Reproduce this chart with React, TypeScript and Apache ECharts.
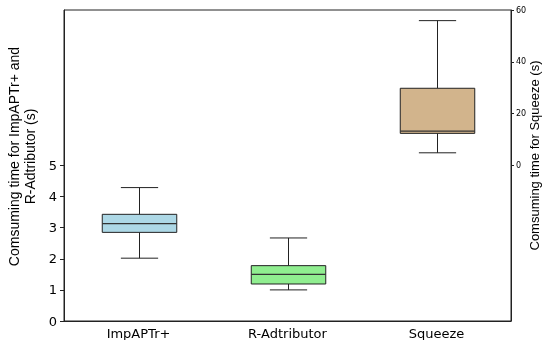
import React, { useEffect, useRef } from "react";
import * as echarts from "echarts";

const categories = ["ImpAPTr+", "R-Adtributor", "Squeeze"];
const whiskerLow = [2.02, 1.0, 4.9];
const q1 = [2.85, 1.19, 12.4];
const median = [3.13, 1.5, 13.3];
const q3 = [3.43, 1.78, 29.8];
const whiskerHigh = [4.29, 2.67, 55.9];
const boxColors = ["#add8e6", "#90ee90", "#d2b48c"];
const leftTicks = [0, 1, 2, 3, 4, 5];
const rightTicks = [0, 20, 40, 60];
const leftAxisIdx = [0, 1];
const rightAxisIdx = [2];

const FONT = "DejaVu Sans";
const NAME_FONT = "Liberation Sans";

function row(i: number) {
  return [i, whiskerLow[i], q1[i], median[i], q3[i], whiskerHigh[i]];
}

function renderBox(params: any, api: any) {
  const x = api.value(0);
  const idx = x as number;
  const band = api.size([1, 0])[0];
  const bw = band * 0.5;
  const cw = bw * 0.5;
  const pLo = api.coord([x, api.value(1)]);
  const pQ1 = api.coord([x, api.value(2)]);
  const pMed = api.coord([x, api.value(3)]);
  const pQ3 = api.coord([x, api.value(4)]);
  const pHi = api.coord([x, api.value(5)]);
  const cx = Math.round(pLo[0]) + 0.5;
  const line = { stroke: "#222", lineWidth: 1 };
  return {
    type: "group",
    children: [
      { type: "line", shape: { x1: cx, y1: pLo[1], x2: cx, y2: pQ1[1] }, style: line },
      { type: "line", shape: { x1: cx, y1: pQ3[1], x2: cx, y2: pHi[1] }, style: line },
      { type: "line", shape: { x1: cx - cw / 2, y1: pLo[1], x2: cx + cw / 2, y2: pLo[1] }, style: line },
      { type: "line", shape: { x1: cx - cw / 2, y1: pHi[1], x2: cx + cw / 2, y2: pHi[1] }, style: line },
      {
        type: "rect",
        shape: { x: cx - bw / 2, y: pQ3[1], width: bw, height: pQ1[1] - pQ3[1] },
        style: { fill: boxColors[idx], stroke: "#222", lineWidth: 1 },
      },
      { type: "line", shape: { x1: cx - bw / 2, y1: pMed[1], x2: cx + bw / 2, y2: pMed[1] }, style: { stroke: "#333", lineWidth: 1.2 } },
    ],
  };
}

export default function App() {
  const ref = useRef<HTMLDivElement>(null);
  useEffect(() => {
    if (!ref.current) return;
    const chart = echarts.init(ref.current, null, { renderer: "svg" });
    chart.setOption({
      animation: false,
      grid: {
        left: 64, right: 37, top: 10, bottom: 19,
        containLabel: false, outerBoundsMode: "none",
        show: true, borderColor: "#222", borderWidth: 1, backgroundColor: "transparent",
      },
      xAxis: {
        type: "category",
        data: categories,
        boundaryGap: true,
        axisLine: { lineStyle: { color: "#222" } },
        axisTick: { alignWithLabel: true, length: 4, lineStyle: { color: "#222" } },
        axisLabel: { color: "#000", fontSize: 13, fontFamily: FONT, margin: 6 },
        splitLine: { show: false },
      },
      yAxis: [
        {
          type: "value",
          min: 0,
          max: 10,
          interval: 1,
          position: "left",
          name: "Comsuming time for ImpAPTr+ and\nR-Adtributor (s)",
          nameLocation: "middle",
          nameGap: 17,
          nameRotate: 90,
          nameTextStyle: { color: "#000", fontSize: 14, fontFamily: NAME_FONT, lineHeight: 16, padding: [0, 0, 0, 18] },
          axisLine: { show: true, lineStyle: { color: "#222" } },
          axisTick: { show: true, length: 4, customValues: leftTicks, lineStyle: { color: "#222" } },
          axisLabel: { color: "#000", fontSize: 13, fontFamily: FONT, margin: 7, customValues: leftTicks },
          splitLine: { show: false },
        },
        {
          type: "value",
          min: -60,
          max: 60,
          interval: 20,
          position: "right",
          name: "Comsuming time for Squeeze (s)",
          nameLocation: "middle",
          nameGap: 17,
          nameMoveOverlap: false,
          nameRotate: 90,
          nameTextStyle: { color: "#000", fontSize: 13, fontFamily: NAME_FONT, padding: [0, 0, 0, 20] },
          axisLine: { show: true, lineStyle: { color: "#222" } },
          axisTick: { show: true, length: 3, customValues: rightTicks, lineStyle: { color: "#222" } },
          axisLabel: { color: "#000", fontSize: 8, fontFamily: FONT, margin: 5, customValues: rightTicks },
          splitLine: { show: false },
        },
      ],
      series: [
        {
          type: "custom",
          xAxisIndex: 0,
          yAxisIndex: 0,
          renderItem: renderBox,
          encode: { x: 0, y: [1, 2, 3, 4, 5] },
          data: leftAxisIdx.map(row),
        },
        {
          type: "custom",
          xAxisIndex: 0,
          yAxisIndex: 1,
          renderItem: renderBox,
          encode: { x: 0, y: [1, 2, 3, 4, 5] },
          data: rightAxisIdx.map(row),
        },
      ],
    });
    return () => chart.dispose();
  }, []);
  return <div ref={ref} style={{ position: "fixed", left: 0, top: 0, width: 548, height: 340 }} />;
}
